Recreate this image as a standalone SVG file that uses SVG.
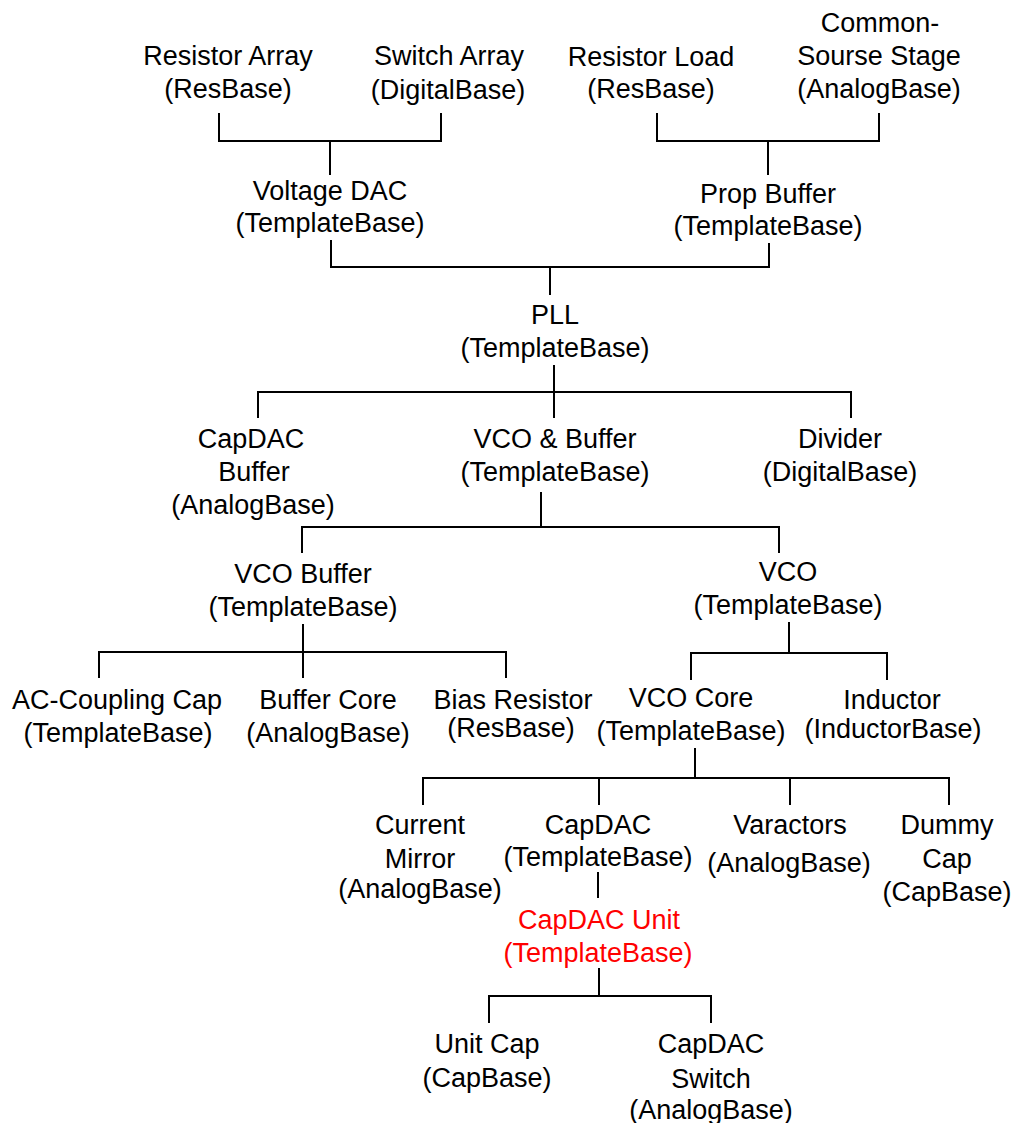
<svg xmlns="http://www.w3.org/2000/svg" width="1013" height="1123" viewBox="0 0 1013 1123">
<style>
text{font-family:"Liberation Sans",Arial,sans-serif;font-size:27px;fill:#000;text-anchor:middle}
text.hl{fill:#ff0000}
.conn path{fill:none;stroke:#000;stroke-width:2}
</style>
<rect width="1013" height="1123" fill="#fff"/>
<g class="conn" id="connectors">
<path d="M219,113 V141 H441 V113 M330,141 V175"/>
<path d="M657,113 V141 H879 V113 M768,141 V175"/>
<path d="M331,240 V267 H769 V243 M550,267 V295"/>
<path d="M554,365 V392 M258,418 V392 H851 V418 M554,392 V418"/>
<path d="M541,492 V527 M302,553 V527 H779 V553"/>
<path d="M303,624 V652 M99,678 V652 H506 V678 M303,652 V678"/>
<path d="M789,622 V653 M691,680 V653 H887 V680"/>
<path d="M695,748 V778 M423,805 V778 H949 V805 M599,778 V805 M790,778 V805"/>
<path d="M598,872 V898"/>
<path d="M599,968 V996 M489,1023 V996 H711 V1023"/>
</g>
<g id="resistor-array"><text x="228" y="65">Resistor Array</text><text x="228" y="98">(ResBase)</text></g>
<g id="switch-array"><text x="449" y="65">Switch Array</text><text x="448" y="99">(DigitalBase)</text></g>
<g id="resistor-load"><text x="651" y="66">Resistor Load</text><text x="651" y="98">(ResBase)</text></g>
<g id="common-source"><text x="880" y="32">Common-</text><text x="879" y="65">Sourse Stage</text><text x="879" y="98">(AnalogBase)</text></g>
<g id="voltage-dac"><text x="330" y="200">Voltage DAC</text><text x="330" y="232">(TemplateBase)</text></g>
<g id="prop-buffer"><text x="768" y="203">Prop Buffer</text><text x="768" y="235">(TemplateBase)</text></g>
<g id="pll"><text x="555" y="324">PLL</text><text x="555" y="357">(TemplateBase)</text></g>
<g id="capdac-buffer"><text x="251" y="448">CapDAC</text><text x="254" y="481">Buffer</text><text x="253" y="514">(AnalogBase)</text></g>
<g id="vco-and-buffer"><text x="555" y="448">VCO &amp; Buffer</text><text x="555" y="481">(TemplateBase)</text></g>
<g id="divider"><text x="840" y="448">Divider</text><text x="840" y="481">(DigitalBase)</text></g>
<g id="vco-buffer"><text x="303" y="583">VCO Buffer</text><text x="303" y="616">(TemplateBase)</text></g>
<g id="vco"><text x="788" y="581">VCO</text><text x="788" y="614">(TemplateBase)</text></g>
<g id="ac-coupling-cap"><text x="117" y="709">AC-Coupling Cap</text><text x="118" y="742">(TemplateBase)</text></g>
<g id="buffer-core"><text x="328" y="709">Buffer Core</text><text x="328" y="742">(AnalogBase)</text></g>
<g id="bias-resistor"><text x="513" y="709">Bias Resistor</text><text x="511" y="737">(ResBase)</text></g>
<g id="vco-core"><text x="691" y="707">VCO Core</text><text x="691" y="740">(TemplateBase)</text></g>
<g id="inductor"><text x="892" y="709">Inductor</text><text x="893" y="738">(InductorBase)</text></g>
<g id="current-mirror"><text x="420" y="834">Current</text><text x="420" y="868">Mirror</text><text x="420" y="898">(AnalogBase)</text></g>
<g id="capdac"><text x="598" y="834">CapDAC</text><text x="598" y="866">(TemplateBase)</text></g>
<g id="varactors"><text x="790" y="834">Varactors</text><text x="789" y="872">(AnalogBase)</text></g>
<g id="dummy-cap"><text x="947" y="834">Dummy</text><text x="947" y="868">Cap</text><text x="947" y="901">(CapBase)</text></g>
<g id="capdac-unit"><text class="hl" x="599" y="929">CapDAC Unit</text><text class="hl" x="598" y="962">(TemplateBase)</text></g>
<g id="unit-cap"><text x="487" y="1053">Unit Cap</text><text x="487" y="1087">(CapBase)</text></g>
<g id="capdac-switch"><text x="711" y="1053">CapDAC</text><text x="711" y="1088">Switch</text><text x="711" y="1119">(AnalogBase)</text></g>
</svg>
